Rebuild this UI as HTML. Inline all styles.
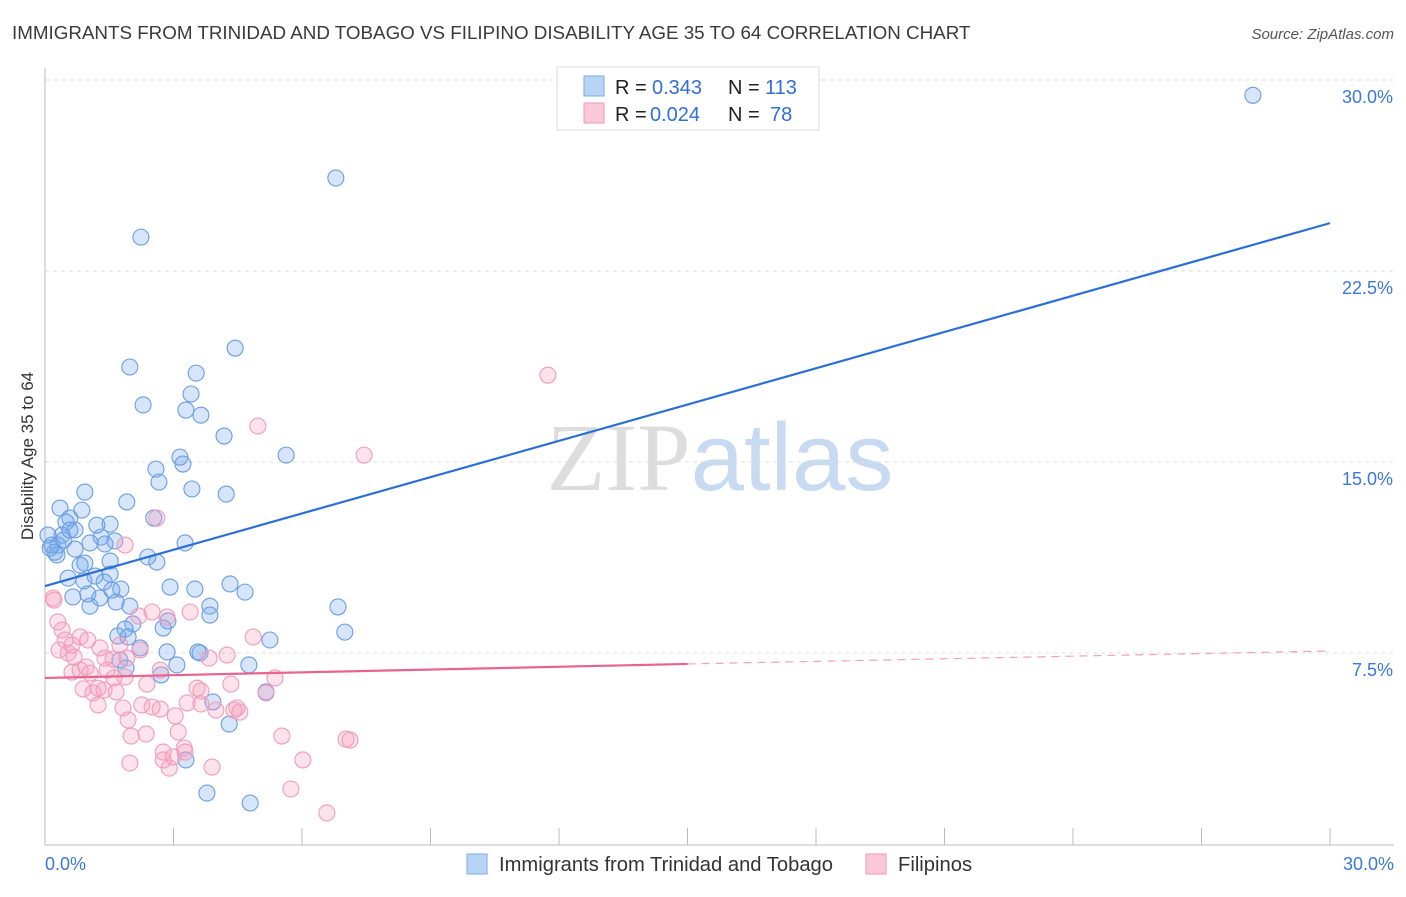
<!DOCTYPE html>
<html><head><meta charset="utf-8"><style>
body{margin:0;background:#fff;font-family:"Liberation Sans",sans-serif;}
</style></head><body>
<svg id="chart" width="1406" height="892" xmlns="http://www.w3.org/2000/svg" font-family="Liberation Sans, sans-serif">
<text x="12" y="39" font-size="18.8" fill="#3a3a3a">IMMIGRANTS FROM TRINIDAD AND TOBAGO VS FILIPINO DISABILITY AGE 35 TO 64 CORRELATION CHART</text>
<text x="1394" y="39" font-size="15" fill="#555" font-style="italic" text-anchor="end">Source: ZipAtlas.com</text>
<text transform="translate(33,456) rotate(-90)" font-size="17" fill="#333" text-anchor="middle">Disability Age 35 to 64</text>
<text x="720" y="490" font-size="96" text-anchor="middle"><tspan fill="#ddd" font-family="Liberation Serif, serif">ZIP</tspan><tspan fill="#c8daf2">atlas</tspan></text>
<g id="grid"></g><g id="axes"></g><g id="pts"></g><g id="lines"></g>
<g>
<rect x="557" y="67" width="262" height="63" fill="#fff" stroke="#ddd"/>
<rect x="584" y="76" width="20" height="20" fill="#b9d3f5" stroke="#7aa8e8"/>
<rect x="584" y="103" width="20" height="20" fill="#fac8d8" stroke="#f09ab8"/>
<text x="615" y="94" font-size="20" fill="#222">R =</text>
<text x="652" y="94" font-size="20" fill="#2f6fd6">0.343</text>
<text x="728" y="94" font-size="20" fill="#222">N =</text>
<text x="765" y="94" font-size="20" fill="#2f6fd6">113</text>
<text x="615" y="121" font-size="20" fill="#222">R =</text>
<text x="650" y="121" font-size="20" fill="#2f6fd6">0.024</text>
<text x="728" y="121" font-size="20" fill="#222">N =</text>
<text x="770" y="121" font-size="20" fill="#2f6fd6">78</text>
</g>
<g>
<rect x="467" y="854" width="20" height="20" fill="#b9d3f5" stroke="#7aa8e8"/>
<text x="499" y="871" font-size="20.2" fill="#333">Immigrants from Trinidad and Tobago</text>
<rect x="866" y="854" width="20" height="20" fill="#fac8d8" stroke="#f09ab8"/>
<text x="898" y="871" font-size="20.2" fill="#333">Filipinos</text>
</g>
</svg>
<script>
const yTicks=[7.5,15,22.5,30];
const yTickLabels=["7.5%","15.0%","22.5%","30.0%"];
const xTickLabels=["0.0%","30.0%"];
const blueX=[28.2,6.79,2.24,4.44,1.98,3.53,3.41,2.29,3.29,3.64,4.18,5.63,3.15,3.22,2.59,2.66,3.43,4.23,0.93,1.91,0.35,0.86,0.58,1.52,1.21,0.49,0.70,2.54,0.40,1.31,1.63,1.05,0.30,1.40,0.12,0.70,0.23,2.40,1.52,0.82,2.61,0.54,1.17,0.91,1.52,3.27,1.77,2.92,4.32,3.50,4.67,1.0,1.28,1.66,1.05,1.98,3.85,6.84,3.85,2.87,2.05,1.87,2.76,1.70,1.94,5.25,7.0,2.22,2.85,3.57,3.62,1.75,3.08,4.76,1.89,2.71,3.92,5.16,4.30,3.29,3.78,4.79,0.07,0.16,0.28,0.93,0.65,0.44,0.58,1.56,1.38];
const blueY=[29.4,26.15,23.83,19.47,18.73,18.49,17.67,17.24,17.04,16.84,16.02,15.27,15.19,14.92,14.72,14.21,13.94,13.74,13.82,13.43,13.19,13.11,12.8,12.56,12.52,12.64,12.33,12.8,12.13,12.05,11.9,11.82,11.74,11.78,11.62,11.58,11.46,11.27,11.11,10.95,11.07,10.44,10.52,10.33,10.6,11.82,10.01,10.09,10.21,10.01,9.89,9.82,9.66,9.5,9.34,9.34,9.34,9.31,8.99,8.76,8.64,8.44,8.48,8.17,8.13,8.01,8.32,7.7,7.54,7.54,7.5,7.22,7.03,7.03,6.91,6.64,5.58,5.97,4.71,3.3,2.0,1.61,12.13,11.74,11.35,11.03,9.7,11.94,12.33,9.97,10.29];
const pinkX=[11.74,4.97,7.45,2.61,1.87,0.21,0.19,0.30,0.40,0.47,0.63,0.82,1.0,0.54,0.33,0.63,0.82,0.96,1.40,1.59,1.91,2.22,2.85,3.39,4.86,4.25,5.37,4.34,5.16,3.55,3.64,3.32,3.64,1.61,1.87,2.38,1.24,0.89,1.38,1.12,1.66,1.24,1.82,2.50,1.94,3.04,3.99,4.41,4.55,2.01,2.36,3.11,2.76,3.25,2.99,2.90,3.90,1.98,5.53,6.02,5.74,6.58,7.03,7.12,2.50,2.19,1.05,0.68,1.75,4.48,3.83,2.76,3.27,2.26,2.69,1.45,1.28,2.69];
const pinkY=[18.41,16.41,15.27,12.8,11.74,9.58,9.66,8.72,8.4,8.01,7.81,8.13,8.01,7.5,7.62,6.75,6.83,6.95,7.3,7.26,7.3,7.62,8.91,9.11,8.13,7.42,6.52,6.28,5.93,6.12,6.01,5.54,5.5,6.52,6.56,6.28,6.12,6.09,6.05,5.93,5.97,5.46,5.34,5.38,4.87,5.03,5.26,5.26,5.18,4.24,4.32,4.4,3.61,3.77,3.42,2.98,3.02,3.18,4.24,3.3,2.16,1.22,4.12,4.08,9.11,8.95,6.71,7.34,7.81,5.34,7.3,3.3,3.61,5.46,5.3,6.83,7.7,6.83];
const blueTrend=[10.13,24.38];
const pinkTrend=[6.52,7.07,7.58];
const NS="http://www.w3.org/2000/svg";
const X=v=>45+v*(1285/30), Y=v=>844-v*(764/30);
function mk(t,a,p){const e=document.createElementNS(NS,t);for(const k in a)e.setAttribute(k,a[k]);document.getElementById(p).appendChild(e);return e;}
yTicks.forEach((t,i)=>{
 const g=mk('line',{x1:45,x2:1394,y1:Y(t),y2:Y(t),stroke:'#ddd','stroke-dasharray':'4,4'},'grid');
 
 
 const l=mk('text',{x:1393,y:Y(t)+23,'font-size':18,fill:'#3a78d8','text-anchor':'end'},'grid');
 
 
 l.textContent=yTickLabels[i];
});
const ax=mk('line',{x1:45,x2:1394,y1:845,y2:845,stroke:'#bbb'},'axes');


const ay=mk('line',{x1:45,x2:45,y1:68,y2:845,stroke:'#bbb'},'axes');


for(let i=0;i<=10;i++){const t=mk('line',{x1:X(i*3),x2:X(i*3),y1:828,y2:845,stroke:'#bbb'},'axes');
 
 }
[[0,'start',45],[30,'end',1394]].forEach((d,i)=>{const t=mk('text',{x:d[2],y:870,'font-size':18,fill:'#3a78d8','text-anchor':d[1]},'axes');
 
 
 t.textContent=xTickLabels[i];});
blueX.forEach((v,i)=>{const c=mk('circle',{cx:X(v),cy:Y(blueY[i]),r:8,fill:'rgba(120,170,235,0.3)',stroke:'#6a9de3','stroke-width':1.1},'pts');
 
 });
pinkX.forEach((v,i)=>{const c=mk('circle',{cx:X(v),cy:Y(pinkY[i]),r:8,fill:'rgba(245,160,190,0.3)',stroke:'#f09cbb','stroke-width':1.1},'pts');
 
 });
const bl=mk('line',{x1:X(0),y1:Y(blueTrend[0]),x2:X(30),y2:Y(blueTrend[1]),stroke:'#2b6fd6','stroke-width':2.2},'lines');


const pl=mk('line',{x1:X(0),y1:Y(pinkTrend[0]),x2:X(15),y2:Y(pinkTrend[1]),stroke:'#e8648f','stroke-width':2.2},'lines');


const pd=mk('line',{x1:X(15),y1:Y(pinkTrend[1]),x2:X(30),y2:Y(pinkTrend[2]),stroke:'#f0a0bb','stroke-width':1.2,'stroke-dasharray':'8,6'},'lines');


</script>
</body></html>
